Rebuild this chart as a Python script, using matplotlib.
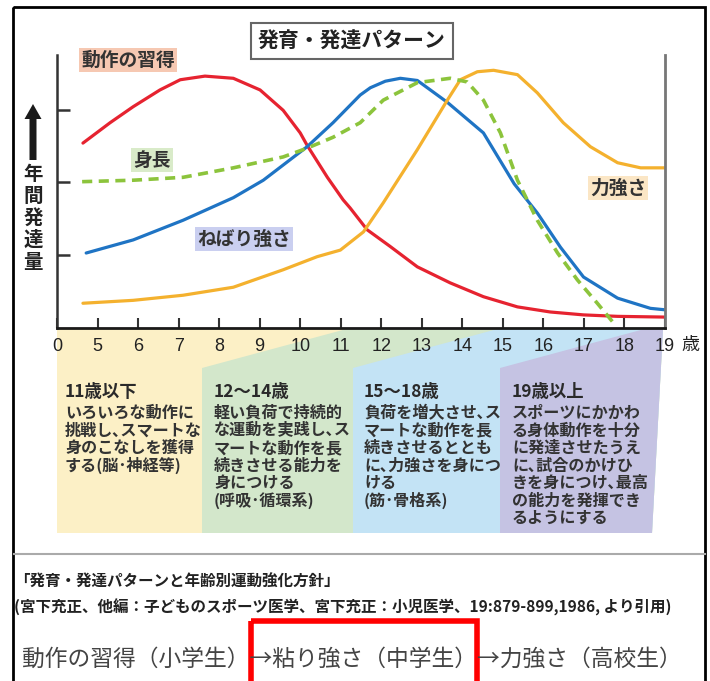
import matplotlib.pyplot as plt
from matplotlib.patches import Polygon, Rectangle, FancyArrow

plt.rcParams['font.family'] = ['Noto Sans CJK JP', 'DejaVu Sans']

W, H = 710, 681

# x axis: the first position (4) carries the label "0" (broken axis)
age_ticks = list(range(4, 20))
age_labels = ['0'] + [str(a) for a in range(5, 20)]
level_ticks = [1, 2, 3]

# 動作の習得
motor_age = [4.64, 5.31, 5.88, 6.54, 7.04, 7.65, 8.35, 9.01, 9.58, 10.0, 10.17,
             10.67, 11.06, 11.23, 11.65, 12.22, 12.89, 13.70, 14.52, 15.36,
             16.17, 16.99, 17.83, 19.0]
motor_val = [2.54, 2.82, 3.04, 3.27, 3.41, 3.46, 3.43, 3.27, 2.99, 2.68, 2.51,
             2.07, 1.76, 1.65, 1.35, 1.12, 0.84, 0.62, 0.43, 0.29,
             0.22, 0.18, 0.16, 0.15]

# ねばり強さ
endur_age = [4.72, 5.88, 7.11, 8.35, 9.09, 10.17, 10.81, 11.48, 11.73, 12.1, 12.47,
             12.89, 13.63, 14.52, 15.28, 15.85, 16.42, 16.99, 17.83, 18.64, 19.0]
endur_val = [1.03, 1.21, 1.48, 1.79, 2.03, 2.49, 2.82, 3.20, 3.30, 3.39, 3.43,
             3.40, 3.10, 2.68, 1.98, 1.58, 1.11, 0.70, 0.41, 0.27, 0.25]

# 身長
height_age = [4.62, 5.88, 7.11, 8.35, 9.58, 10.17, 10.81, 11.48, 12.05, 12.89,
              13.70, 14.12, 14.52, 14.94, 15.36, 15.85, 16.35, 16.84, 17.33, 17.73]
height_val = [2.01, 2.03, 2.07, 2.20, 2.35, 2.47, 2.62, 2.82, 3.13, 3.37,
              3.43, 3.38, 3.13, 2.68, 2.03, 1.48, 1.03, 0.66, 0.34, 0.07]

# 力強さ
power_age = [4.64, 5.88, 7.11, 8.35, 9.58, 10.42, 10.99, 11.56, 12.05, 12.89,
             13.63, 13.95, 14.37, 14.77, 15.36, 15.85, 16.49, 17.16, 17.83,
             18.40, 19.0]
power_val = [0.34, 0.38, 0.45, 0.56, 0.80, 0.98, 1.07, 1.32, 1.72, 2.45,
             3.13, 3.41, 3.52, 3.54, 3.48, 3.23, 2.82, 2.49, 2.27,
             2.20, 2.20]

panel_heads = ['11歳以下', '12〜14歳', '15〜18歳', '19歳以上']
panel_lines = [
    ['いろいろな動作に', '挑戦し､スマートな', '身のこなしを獲得', 'する(脳･神経等)'],
    ['軽い負荷で持続的', 'な運動を実践し､ス', 'マートな動作を長', '続きさせる能力を',
     '身につける', '(呼吸･循環系)'],
    ['負荷を増大させ､ス', 'マートな動作を長', '続きさせるととも', 'に､力強さを身につ',
     'ける', '(筋･骨格系)'],
    ['スポーツにかかわ', 'る身体動作を十分', 'に発達させたうえ', 'に､試合のかけひ',
     'きを身につけ､最高', 'の能力を発揮でき', 'るようにする'],
]
panel_colors = ['#fcf0c6', '#d3e7cb', '#c3e3f5', '#c5c3e3']

fig = plt.figure(figsize=(W / 100, H / 100), dpi=100)
fig.patch.set_facecolor('white')

# background layer in pixel units
bg = fig.add_axes([0, 0, 1, 1], zorder=0)
bg.set_xlim(0, W)
bg.set_ylim(H, 0)
bg.axis('off')

bg.add_patch(Rectangle((13, 7), 692, 700, fill=False, ec='black', lw=2))

# stage bands under the age axis
band_left = [57, 202, 353, 500]
top, bot, slope = 329, 533, 0.27
for i, (xl, col) in enumerate(zip(band_left, panel_colors)):
    if i == 0:
        pts = [(57, top), (663, top), (652, bot), (57, bot)]
    else:
        xr = xl + (368 - top) / slope
        pts = [(xl, bot), (xl, 368), (xr, top), (663, top), (652, bot)]
    bg.add_patch(Polygon(pts, closed=True, fc=col, ec='none'))

for i, xl in enumerate([65, 214, 364, 512]):
    bg.text(xl, 392, panel_heads[i], fontsize=12.5, fontweight='bold',
            color='#2a2a2a', va='center', ha='left')
    for j, line in enumerate(panel_lines[i]):
        bg.text(xl, 413 + j * 17.5, line, fontsize=11.6, color='#333333',
                va='center', ha='left', fontweight='bold')

# y label: arrow and vertical text
bg.add_patch(FancyArrow(33, 160, 0, -56, width=7, head_width=17,
                        head_length=15, length_includes_head=True,
                        fc='#1a1a1a', ec='none'))
for k, ch in enumerate('年間発達量'):
    bg.text(33, 174 + k * 22, ch, fontsize=14, fontweight='bold',
            color='#222222', ha='center', va='center')

bg.text(690, 345, '歳', fontsize=13, color='#222222', ha='center', va='center')

# title box
bg.text(352, 41, '発育・発達パターン', fontsize=15, fontweight='bold',
        color='#222222', ha='center', va='center',
        bbox=dict(boxstyle='square,pad=0.35', fc='white', ec='#666666', lw=1.5))

# curve labels
labels = [
    ('動作の習得', 128, 60, '#f6c8b2'),
    ('身長', 152, 160, '#d9ebc9'),
    ('ねばり強さ', 244, 239, '#cacff0'),
    ('力強さ', 618, 188, '#fbe6c5'),
]
for txt, x, y, col in labels:
    bg.text(x, y, txt, fontsize=13.5, fontweight='bold', color='#333333',
            ha='center', va='center',
            bbox=dict(boxstyle='square,pad=0.12', fc=col, ec='none'))

# footer
bg.plot([14, 705], [554, 554], color='#aaaaaa', lw=1.5)
bg.text(14, 582, '「発育・発達パターンと年齢別運動強化方針」', fontsize=11.2,
        fontweight='bold', color='#222222', ha='left', va='center')
bg.text(14, 607,
        '(宮下充正、他編：子どものスポーツ医学、宮下充正：小児医学、19:879-899,1986, より引用)',
        fontsize=11.2, fontweight='bold', color='#222222', ha='left', va='center')
bg.text(22, 659, '動作の習得（小学生）→粘り強さ（中学生）→力強さ（高校生）',
        fontsize=16.4, color='#444444', ha='left', va='center')
bg.add_patch(Rectangle((251, 621), 226, 80, fill=False, ec='#ff0000', lw=4))

# chart
ax = fig.add_axes([57 / W, 1 - 328 / H, (665 - 57) / W, (328 - 55) / H], zorder=1)
ax.patch.set_alpha(0)
ax.set_xlim(4, 19)
ax.set_ylim(0, 3.75)

ax.plot(motor_age, motor_val, color='#e62330', lw=2.3, solid_capstyle='round',
        solid_joinstyle='round')
ax.plot(endur_age, endur_val, color='#1f74c4', lw=2.3, solid_capstyle='round',
        solid_joinstyle='round')
ax.plot(power_age, power_val, color='#f4b12e', lw=2.3, solid_capstyle='round',
        solid_joinstyle='round')
ax.plot(height_age, height_val, color='#8cc43c', lw=2.6, dashes=(2.8, 1.8))

ax.spines['top'].set_visible(False)
ax.spines['bottom'].set_color('#1a1a1a')
ax.spines['bottom'].set_linewidth(2)
ax.spines['left'].set_color('#333333')
ax.spines['left'].set_linewidth(1.8)
ax.spines['right'].set_color('#777777')
ax.spines['right'].set_linewidth(2)

ax.set_xticks(age_ticks)
ax.set_xticklabels(age_labels)
ax.tick_params(axis='x', direction='in', length=7, width=1.5, color='#333333',
               pad=7, labelsize=13, labelcolor='#222222')
for lab in ax.get_xticklabels():
    lab.set_family(['Liberation Sans', 'DejaVu Sans'])
ax.set_yticks(level_ticks)
ax.set_yticklabels([])
ax.tick_params(axis='y', direction='in', length=9, width=1.8, color='#333333')

fig.savefig('out.png', dpi=100)
